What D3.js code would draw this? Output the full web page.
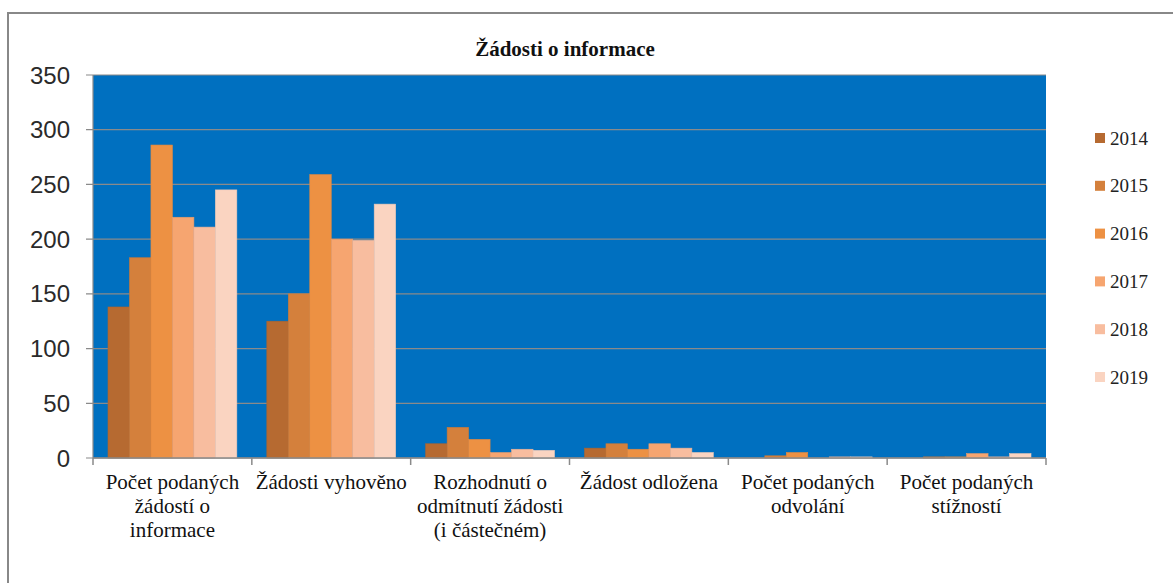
<!DOCTYPE html>
<html><head><meta charset="utf-8">
<script src="https://cdn.jsdelivr.net/npm/d3@7"></script>
<style>body{margin:0;background:#fff}svg{display:block}
.serif{font-family:'Liberation Serif','DejaVu Serif',serif}
.sans{font-family:'Liberation Sans','DejaVu Sans',sans-serif}
</style>
</head><body>
<svg id="c" width="1173" height="583"></svg>
<script>
const categories = [
  ["Počet podaných", "žádostí o", "informace"],
  ["Žádosti vyhověno"],
  ["Rozhodnutí o", "odmítnutí žádosti", "(i částečném)"],
  ["Žádost odložena"],
  ["Počet podaných", "odvolání"],
  ["Počet podaných", "stížností"]
];
const years = ["2014", "2015", "2016", "2017", "2018", "2019"];
const v2014 = [138, 125, 13, 9, 0, 0];
const v2015 = [183, 150, 28, 13, 2, 1];
const v2016 = [286, 259, 17, 8, 5, 1];
const v2017 = [220, 200, 5, 13, 0, 4];
const v2018 = [211, 199, 8, 9, 1, 1];
const v2019 = [245, 232, 7, 5, 1, 4];
const yTicks = [0, 50, 100, 150, 200, 250, 300, 350];
const colors = ["#B66A31", "#D4803C", "#ED9143", "#F6A570", "#F8BD9F", "#FAD4C1"];
const title = "Žádosti o informace";

const series = [v2014, v2015, v2016, v2017, v2018, v2019];
const svg = d3.select("#c");
const L = 93, R = 1046, T = 75, B = 458;

svg.append("rect").attr("x", 8).attr("y", 13).attr("width", 1300).attr("height", 700)
  .attr("fill", "#fff").attr("stroke", "#888").attr("stroke-width", 2);

const idx = d3.range(categories.length);
const x0 = d3.scaleBand().domain(idx).range([L, R]).paddingInner(0).paddingOuter(0);
const x1 = d3.scaleBand().domain(years).range([15, x0.bandwidth() - 15]);
const y = d3.scaleLinear().domain([0, 350]).range([B, T]);

svg.append("rect").attr("x", L).attr("y", T).attr("width", R - L).attr("height", B - T).attr("fill", "#0070C0");

svg.append("g").selectAll("line").data(yTicks).join("line")
  .attr("x1", L - 7).attr("x2", R).attr("y1", d => y(d)).attr("y2", d => y(d))
  .attr("stroke", "#8a8a8a").attr("stroke-width", 1.2);
svg.append("line").attr("x1", L).attr("x2", L).attr("y1", T).attr("y2", B).attr("stroke", "#8a8a8a").attr("stroke-width", 1.2);

svg.append("g").selectAll("text").data(yTicks).join("text")
  .attr("class", "sans")
  .attr("x", 70).attr("y", d => y(d)).attr("dy", "0.36em").attr("text-anchor", "end")
  .attr("font-size", 24).attr("fill", "#2a2a2a")
  .text(d => d);

const g = svg.append("g");
idx.forEach(i => {
  years.forEach((yr, k) => {
    const val = series[k][i];
    if (val <= 0) return;
    g.append("rect")
      .attr("x", x0(i) + x1(yr)).attr("width", x1.bandwidth())
      .attr("y", y(val)).attr("height", y(0) - y(val))
      .attr("fill", colors[k]).attr("stroke", d3.color(colors[k]).darker(0.15)).attr("stroke-width", 0.6);
  });
});

svg.append("line").attr("x1", L).attr("x2", R).attr("y1", B).attr("y2", B).attr("stroke", "#8a8a8a").attr("stroke-width", 1.5);
const bounds = idx.map(i => x0(i)).concat([R]);
svg.append("g").selectAll("line").data(bounds).join("line")
  .attr("x1", d => d).attr("x2", d => d).attr("y1", B).attr("y2", B + 7)
  .attr("stroke", "#8a8a8a").attr("stroke-width", 1.5);

const cl = svg.append("g").attr("class", "serif").attr("font-size", 21).attr("fill", "#111").attr("text-anchor", "middle");
categories.forEach((lines, i) => {
  const t = cl.append("text").attr("x", x0(i) + x0.bandwidth() / 2).attr("y", 489);
  lines.forEach((ln, j) => t.append("tspan").attr("x", x0(i) + x0.bandwidth() / 2).attr("dy", j === 0 ? 0 : 24).text(ln));
});

svg.append("text").attr("class", "serif").attr("x", 565).attr("y", 56).attr("text-anchor", "middle")
  .attr("font-weight", "bold").attr("font-size", 21).attr("fill", "#111")
  .text(title);

const lg = svg.append("g");
years.forEach((yr, k) => {
  const cy = 138 + k * 47.8;
  lg.append("rect").attr("x", 1095).attr("y", cy - 5).attr("width", 10).attr("height", 10).attr("fill", colors[k]);
  lg.append("text").attr("class", "serif").attr("x", 1110).attr("y", cy).attr("dy", "0.35em")
    .attr("font-size", 19).attr("fill", "#222").text(yr);
});
</script>
</body></html>
